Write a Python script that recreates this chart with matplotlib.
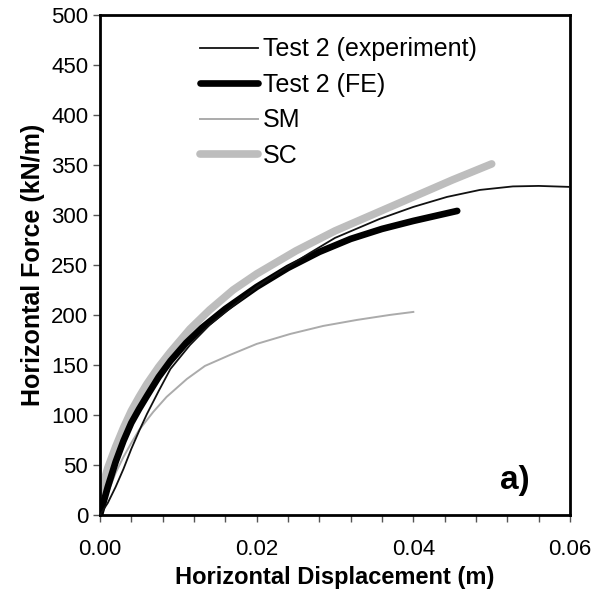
import matplotlib.pyplot as plt

plt.rcParams['font.family'] = ['Liberation Sans', 'DejaVu Sans']

# Curvas fuerza-desplazamiento
x_exp = [0, 0.001, 0.002, 0.003, 0.004, 0.005, 0.006, 0.0075, 0.009, 0.0115,
         0.014, 0.017, 0.020, 0.0235, 0.0268, 0.030, 0.0357, 0.040, 0.0443,
         0.0485, 0.0527, 0.056, 0.060]
f_exp = [0, 12, 28, 46, 66, 84, 101, 124, 146, 170,
         190, 209, 228, 246, 262, 277, 296, 308, 318,
         325, 328.5, 329, 328]

x_fe = [0, 0.0005, 0.001, 0.002, 0.003, 0.004, 0.005, 0.006, 0.0075, 0.009,
        0.011, 0.013, 0.016, 0.020, 0.024, 0.028, 0.032, 0.036, 0.040, 0.0456]
f_fe = [0, 14, 28, 53, 74, 92, 106, 119, 138, 154,
        172, 187, 206, 228, 247, 263, 276, 286, 294, 304]

x_sm = [0, 0.001, 0.002, 0.003, 0.004, 0.005, 0.0068, 0.0085, 0.0111, 0.0134,
        0.0166, 0.020, 0.0243, 0.0285, 0.0328, 0.037, 0.040]
f_sm = [0, 22, 42, 58, 72, 85, 103, 118, 136, 149,
        160, 171, 181, 189, 195, 200, 203]

x_sc = [0, 0.0003, 0.001, 0.002, 0.003, 0.004, 0.005, 0.006, 0.0075, 0.009,
        0.0115, 0.014, 0.017, 0.020, 0.025, 0.030, 0.035, 0.040, 0.045, 0.050]
f_sc = [0, 28, 47, 68, 87, 104, 118, 131, 148, 163,
        186, 205, 225, 241, 264, 284, 301, 318, 335, 351]

fig = plt.figure(figsize=(5.95, 5.96), dpi=100)
ax = fig.add_axes([0.168, 0.136, 0.79, 0.839])

l_sc, = ax.plot(x_sc, f_sc, color='#bdbdbd', lw=5.5, solid_capstyle='round', zorder=2)
l_sm, = ax.plot(x_sm, f_sm, color='#ababab', lw=1.4, zorder=3)
l_fe, = ax.plot(x_fe, f_fe, color='black', lw=4.8, solid_capstyle='round', zorder=4)
l_exp, = ax.plot(x_exp, f_exp, color='#111111', lw=1.3, zorder=5)

ax.legend([l_exp, l_fe, l_sm, l_sc],
          ['Test 2 (experiment)', 'Test 2 (FE)', 'SM', 'SC'],
          loc='upper left', bbox_to_anchor=(0.213, 0.955), frameon=False,
          borderpad=0, borderaxespad=0,
          fontsize=18, handlelength=2.3, handletextpad=0.2, labelspacing=0.46)

ax.set_xlim(0, 0.06)
ax.set_ylim(0, 500)
ax.set_xticks([0, 0.02, 0.04, 0.06])
ax.set_xticklabels(['0.00', '0.02', '0.04', '0.06'])
ax.set_xticks([i * 0.004 for i in range(16)], minor=True)
ax.set_yticks(range(0, 501, 50))
ax.tick_params(axis='both', which='both', direction='out', labelsize=16, width=1, color='#555555')
ax.tick_params(axis='both', which='major', length=5)
ax.tick_params(axis='x', which='minor', length=5)
ax.tick_params(axis='x', which='major', pad=12)
for s in ax.spines.values():
    s.set_linewidth(2)

ax.set_xlabel('Horizontal Displacement (m)', fontsize=17, fontweight='bold', labelpad=5)
ax.set_ylabel('Horizontal Force (kN/m)', fontsize=18, fontweight='bold', labelpad=4)

ax.text(0.053, 34, 'a)', fontsize=24, fontweight='bold', ha='center', va='center')

fig.savefig('out.png', dpi=100)
